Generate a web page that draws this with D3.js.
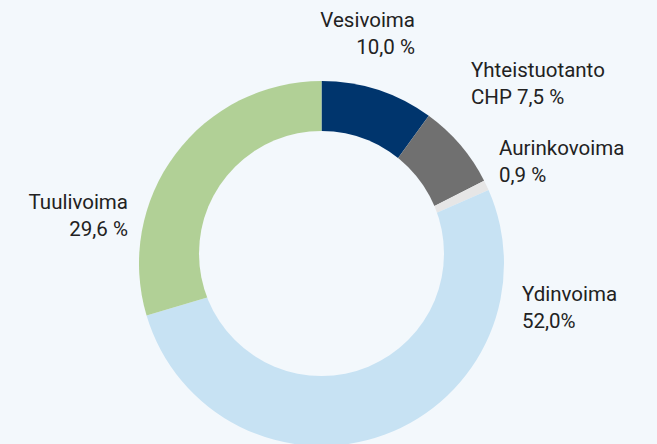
<!DOCTYPE html>
<html>
<head>
<meta charset="utf-8">
<script src="https://cdn.jsdelivr.net/npm/d3@7"></script>
<style>
  html, body { margin: 0; padding: 0; background: #f3f8fc; }
  svg { display: block; }
</style>
</head>
<body>
<div id="chart"></div>
<script>
// energy sources, share of production (%)
const sources = ["Vesivoima", "Yhteistuotanto CHP", "Aurinkovoima", "Ydinvoima", "Tuulivoima"];
const shares = [10.0, 7.5, 0.9, 52.0, 29.6];
const labelLines = [
  ["Vesivoima", "10,0 %"],
  ["Yhteistuotanto", "CHP 7,5 %"],
  ["Aurinkovoima", "0,9 %"],
  ["Ydinvoima", "52,0%"],
  ["Tuulivoima", "29,6 %"]
];
const colors = ["#00356d", "#707070", "#e6e6e6", "#c7e2f3", "#b1d096"];

// label placement (anchor point + alignment), in the same order
const labelLayout = [
  { x: 415, y: 27, anchor: "end" },
  { x: 471, y: 77, anchor: "start" },
  { x: 499, y: 155, anchor: "start" },
  { x: 522, y: 301, anchor: "start" },
  { x: 128, y: 209, anchor: "end" }
];

const width = 657, height = 444;
const cx = 321.5, cy = 263.5;
const outerR = 182.5;
// the hole sits a bit higher than the pie centre in the original
const holeR = 122.5, holeDy = -10;
const bg = "#f3f8fc";

const svg = d3
  .select("#chart")
  .append("svg")
  .attr("width", width)
  .attr("height", height);

svg.append("rect")
  .attr("width", width)
  .attr("height", height)
  .attr("fill", bg);

const data = sources.map((s, i) => ({ name: s, value: shares[i], i: i }));

const pie = d3.pie()
  .value((d) => d.value)
  .sort(null)
  .startAngle(0)
  .endAngle(2 * Math.PI);

const arc = d3.arc().innerRadius(0).outerRadius(outerR);

const g = svg.append("g").attr("transform", `translate(${cx},${cy})`);

g.selectAll("path")
  .data(pie(data))
  .join("path")
  .attr("d", arc)
  .attr("fill", (d) => colors[d.data.i]);

g.append("circle")
  .attr("cx", 0)
  .attr("cy", holeDy)
  .attr("r", holeR)
  .attr("fill", bg);

const labels = svg.append("g")
  .attr("font-family", "Roboto, sans-serif")
  .attr("font-size", 20.5)
  .attr("fill", "#222");

labels.selectAll("text")
  .data(data)
  .join("text")
  .attr("x", (d) => labelLayout[d.i].x)
  .attr("y", (d) => labelLayout[d.i].y)
  .attr("text-anchor", (d) => labelLayout[d.i].anchor)
  .selectAll("tspan")
  .data((d) => labelLines[d.i].map((t) => ({ t: t, x: labelLayout[d.i].x })))
  .join("tspan")
  .attr("x", (d) => d.x)
  .attr("dy", (d, j) => (j === 0 ? 0 : 26.5))
  .text((d) => d.t);
</script>
</body>
</html>
